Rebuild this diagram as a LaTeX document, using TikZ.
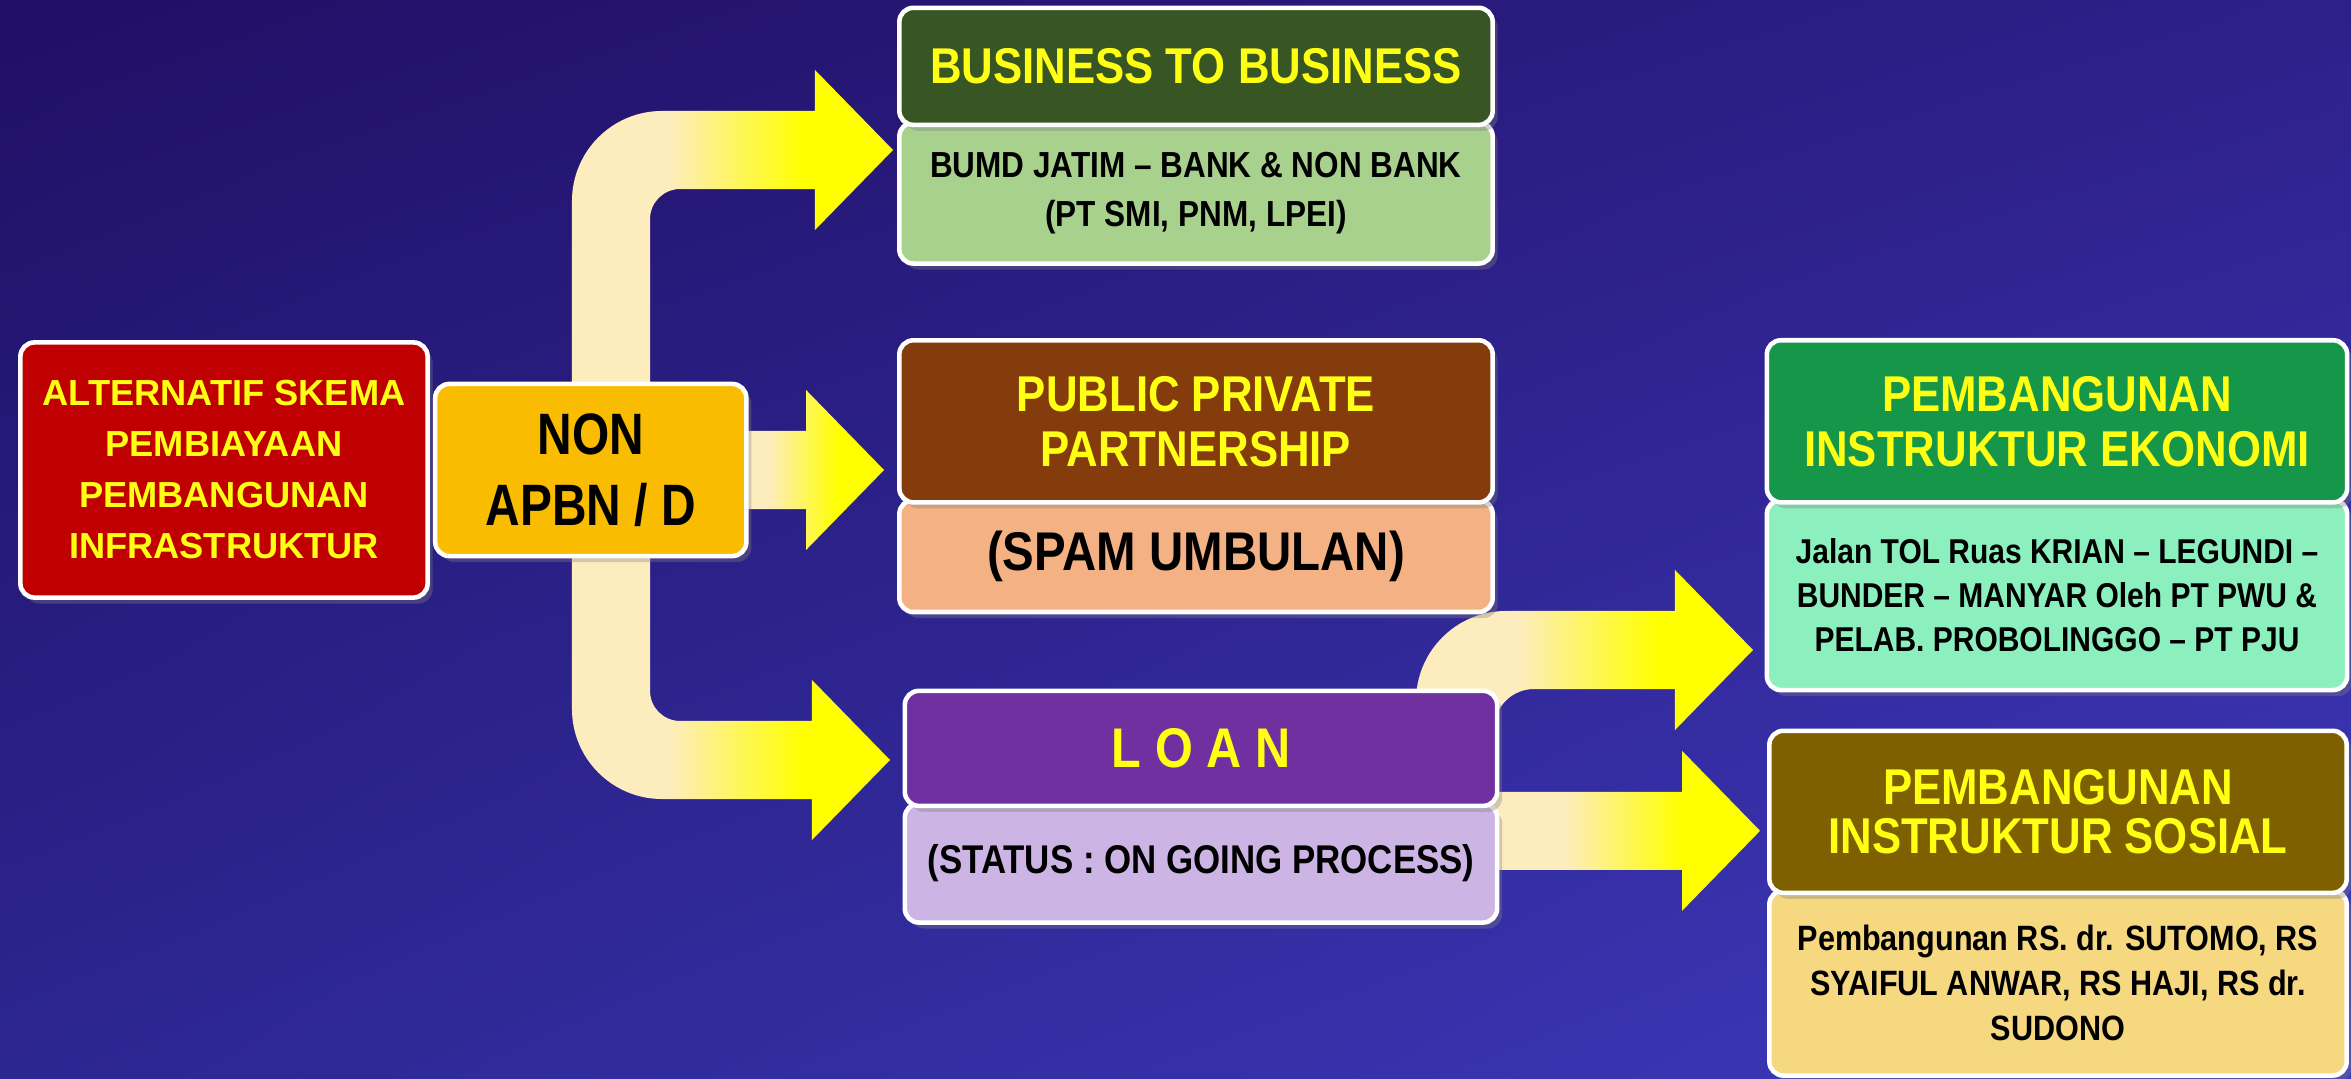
\documentclass[tikz,border=0pt]{standalone}
\usepackage{fontspec}
\setmainfont{Liberation Sans}
\newfontfamily\narrowsans{Liberation Sans}[FakeStretch=0.87]
\newfontfamily\tightsans{Liberation Sans}[FakeStretch=0.82]
\usetikzlibrary{positioning,calc,shadows,shadings}

\definecolor{bgdeep}{RGB}{32,15,100}
\definecolor{bgmid}{RGB}{46,32,138}
\definecolor{bglow}{RGB}{44,38,145}
\definecolor{bglight}{RGB}{62,58,190}
\definecolor{arrcream}{RGB}{253,236,190}
\definecolor{arrgold}{RGB}{255,255,0}
\definecolor{hdrtext}{RGB}{255,255,20}
\definecolor{skemared}{RGB}{192,0,0}
\definecolor{nongold}{RGB}{250,188,0}
\definecolor{bbdark}{RGB}{55,86,35}
\definecolor{bblight}{RGB}{169,209,142}
\definecolor{pppdark}{RGB}{132,60,12}
\definecolor{ppplight}{RGB}{244,177,131}
\definecolor{loandark}{RGB}{112,48,160}
\definecolor{loanlight}{RGB}{204,181,228}
\definecolor{ekodark}{RGB}{22,150,72}
\definecolor{ekolight}{RGB}{140,240,190}
\definecolor{sosdark}{RGB}{127,96,0}
\definecolor{soslight}{RGB}{246,216,128}

\newcommand{\setfs}[2]{\fontsize{#1}{#2}\selectfont}
\newcommand{\shaftw}{0.39cm}
\newcommand{\headw}{0.8cm}
\newcommand{\headl}{0.78cm}

\pgfdeclarehorizontalshading{arrowfade}{100bp}{color(0bp)=(arrcream); color(40bp)=(arrcream); color(61bp)=(arrgold); color(100bp)=(arrgold)}
\pgfdeclarelayer{backdrop}
\pgfdeclarelayer{arrowlayer}
\pgfsetlayers{backdrop,arrowlayer,main}

% straight block arrow, tail x from #1, tip at #2
\newcommand{\blockarrow}[2]{%
  \shade[shading=arrowfade] let \p1=#1, \p2=#2 in
    (\x1,\y2-\shaftw) -- (\x2-\headl,\y2-\shaftw) -- (\x2-\headl,\y2-\headw) -- (\p2)
    -- (\x2-\headl,\y2+\headw) -- (\x2-\headl,\y2+\shaftw) -- (\x1,\y2+\shaftw) -- cycle;}

\begin{document}
\begin{tikzpicture}[x=0.01cm, y=0.01cm,
  plate/.style={draw=white, line width=1.3pt, rounded corners=4pt, align=center, inner sep=1pt,
    drop shadow={opacity=0.35, shadow xshift=0.5mm, shadow yshift=-0.6mm}},
  head/.style={plate, text=hdrtext, font=\narrowsans\bfseries\setfs{14.3}{15.6}},
  body/.style={plate, text=black, font=\narrowsans\bfseries\setfs{10}{12.8}}]
\useasboundingbox (0,0) rectangle (2351,1078);
\begin{pgfonlayer}{backdrop}
\shade[upper left=bgdeep, upper right=bgmid, lower left=bglow, lower right=bglight] (0,0) rectangle (2351,1078);
\end{pgfonlayer}

\node[plate, fill=skemared, text=hdrtext, minimum width=4.07cm, minimum height=2.55cm,
  font=\bfseries\setfs{10.3}{14.5}] (skema) at (224,608)
  {ALTERNATIF SKEMA\\PEMBIAYAAN\\PEMBANGUNAN\\INFRASTRUKTUR};
\node[plate, fill=nongold, minimum width=3.11cm, minimum height=1.72cm, right=0.03cm of skema,
  font=\tightsans\bfseries\setfs{16.6}{20.2}] (nonapbn) {NON\\APBN / D};

\node[body, fill=bblight, minimum width=5.93cm, minimum height=1.41cm, font=\narrowsans\bfseries\setfs{10.3}{14}]
  (bb-body) at (1196,885) {BUMD JATIM – BANK \& NON BANK\\(PT SMI, PNM, LPEI)};
\node[head, fill=bbdark, minimum width=5.93cm, minimum height=1.17cm, above=-0.07cm of bb-body]
  (bb-head) {BUSINESS TO BUSINESS};

\node[body, fill=ppplight, minimum width=5.93cm, minimum height=1.12cm, font=\narrowsans\bfseries\setfs{15.5}{17}]
  (ppp-body) at (1196,522) {(SPAM UMBULAN)};
\node[head, fill=pppdark, minimum width=5.93cm, minimum height=1.62cm, above=-0.07cm of ppp-body]
  (ppp-head) {PUBLIC PRIVATE\\PARTNERSHIP};

\node[body, fill=loanlight, minimum width=5.92cm, minimum height=1.19cm, font=\narrowsans\bfseries\setfs{11.4}{13}]
  (loan-body) at (1201,215) {(STATUS : ON GOING PROCESS)};
\node[head, fill=loandark, minimum width=5.92cm, minimum height=1.15cm, above=-0.07cm of loan-body,
  font=\narrowsans\bfseries\setfs{15.9}{18}] (loan-head) {L O A N};

\node[body, fill=ekolight, minimum width=5.80cm, minimum height=1.90cm, font=\narrowsans\bfseries\setfs{9.8}{12.5}]
  (eko-body) at (2057,483) {Jalan TOL Ruas KRIAN – LEGUNDI –\\BUNDER – MANYAR Oleh PT PWU \&\\PELAB. PROBOLINGGO – PT PJU};
\node[head, fill=ekodark, minimum width=5.80cm, minimum height=1.62cm, above=-0.07cm of eko-body]
  (eko-head) {PEMBANGUNAN\\INSTRUKTUR EKONOMI};

\node[body, fill=soslight, minimum width=5.77cm, minimum height=1.85cm]
  (sos-body) at (2058,95) {Pembangunan RS. dr. SUTOMO, RS\\SYAIFUL ANWAR, RS HAJI, RS dr.\\SUDONO};
\node[head, fill=sosdark, minimum width=5.77cm, minimum height=1.62cm, above=-0.07cm of sos-body,
  font=\narrowsans\bfseries\setfs{14.3}{14}] (sos-head) {PEMBANGUNAN\\INSTRUKTUR SOSIAL};

\coordinate (fork) at (611,606);
\coordinate (tipB) at (893,928);
\coordinate (tipL) at (890,318);
\coordinate (tipP) at ($(ppp-head.west |- nonapbn)+(-13,0)$);
\coordinate (bendE) at (1455,300);
\coordinate (tipE) at (1753,428);
\coordinate (tipS) at ($(sos-head.west)+(-7,-19)$);

\begin{pgfonlayer}{arrowlayer}
\shade[shading=arrowfade] let \p1=(fork), \p2=(tipB), \p3=(tipL) in
  (\p2) -- (\x2-\headl,\y2+\headw) -- (\x2-\headl,\y2+\shaftw) -- (\x1-\shaftw+0.9cm,\y2+\shaftw)
  arc[start angle=90, end angle=180, radius=0.9cm] -- (\x1-\shaftw,\y3-\shaftw+0.9cm)
  arc[start angle=180, end angle=270, radius=0.9cm] -- (\x3-\headl,\y3-\shaftw)
  -- (\x3-\headl,\y3-\headw) -- (\p3) -- (\x3-\headl,\y3+\headw) -- (\x3-\headl,\y3+\shaftw)
  -- (\x1+\shaftw+0.3cm,\y3+\shaftw) arc[start angle=270, end angle=180, radius=0.3cm]
  -- (\x1+\shaftw,\y2-\shaftw-0.3cm) arc[start angle=180, end angle=90, radius=0.3cm]
  -- (\x2-\headl,\y2-\shaftw) -- (\x2-\headl,\y2-\headw) -- cycle;
\blockarrow{($(nonapbn.east)+(-30,0)$)}{(tipP)}
\shade[shading=arrowfade] let \p1=(bendE), \p2=(tipE) in
  (\x1-\shaftw,\y1) -- (\x1-\shaftw,\y2+\shaftw-0.9cm) arc[start angle=180, end angle=90, radius=0.9cm]
  -- (\x2-\headl,\y2+\shaftw) -- (\x2-\headl,\y2+\headw) -- (\p2) -- (\x2-\headl,\y2-\headw)
  -- (\x2-\headl,\y2-\shaftw) -- (\x1+\shaftw+0.4cm,\y2-\shaftw)
  arc[start angle=90, end angle=180, radius=0.4cm] -- (\x1+\shaftw,\y1) -- cycle;
\blockarrow{($(loan-body.east)+(-20,0)$)}{(tipS)}
\end{pgfonlayer}
\end{tikzpicture}
\end{document}
